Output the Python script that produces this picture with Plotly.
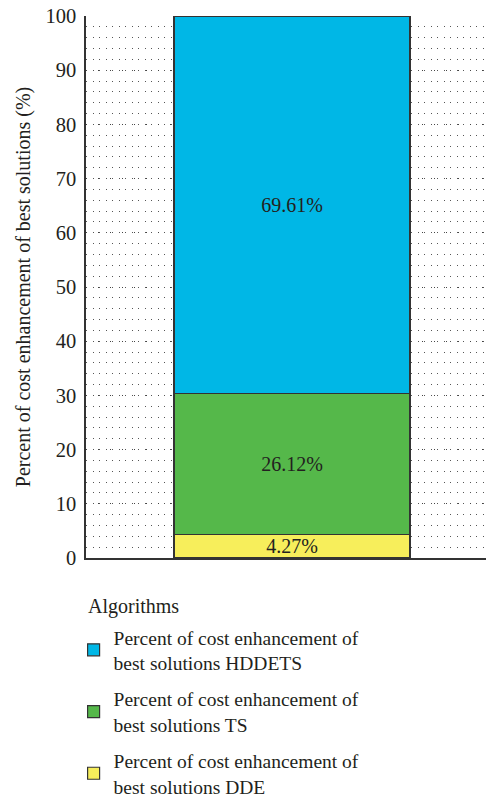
import plotly.graph_objects as go

categories = ["Best solutions"]
series_names = [
    "Percent of cost enhancement of<br>best solutions DDE",
    "Percent of cost enhancement of<br>best solutions TS",
    "Percent of cost enhancement of<br>best solutions HDDETS",
]
series_values = [[4.27], [26.12], [69.61]]
series_colors = ["#f7ee5b", "#55b84a", "#00b7e6"]
legend_ranks = [3, 2, 1]
y_ticks = [0, 10, 20, 30, 40, 50, 60, 70, 80, 90, 100]
legend_title = "Algorithms"

FONT = "Liberation Serif"
INK = "#231f20"

fig = go.Figure()
for i, (name, vals, col, rk) in enumerate(zip(series_names, series_values, series_colors, legend_ranks)):
    fig.add_trace(go.Bar(
        x=[0], y=vals, name=name, legendgroup=str(i), legendrank=rk,
        marker=dict(color=col, line=dict(color="#333333", width=1.2)),
        width=1,
        text=[f"{v:.2f}%" for v in vals], textposition="inside",
        insidetextanchor="middle", textangle=0, constraintext="none",
        textfont=dict(family=FONT, size=20, color=INK),
        hoverinfo="skip",
    ))

fig.update_layout(
    barmode="stack",
    width=486, height=797,
    margin=dict(l=86, r=0, t=16, b=239, autoexpand=False),
    paper_bgcolor="white", plot_bgcolor="white",
    font=dict(family=FONT, size=20, color=INK),
    showlegend=True,
    legend=dict(
        orientation="v", x=-0.031, xanchor="left", y=-0.1107, yanchor="top",
        traceorder="grouped", tracegroupgap=8,
        font=dict(family=FONT, size=19.5, color=INK),
        itemwidth=30,
    ),
    uniformtext=dict(mode=False),
    annotations=[dict(
        text=legend_title, xref="paper", yref="paper", x=0, y=-0.0886,
        xanchor="left", yanchor="middle", showarrow=False,
        font=dict(family=FONT, size=20, color=INK),
    )],
)
fig.update_xaxes(
    range=[-0.873, 0.822], showticklabels=False, showgrid=False, zeroline=False,
    showline=True, linecolor="#333333", linewidth=1.5, ticks="",
)
fig.update_yaxes(
    range=[0, 100], tickvals=y_ticks, ticks="", showline=True,
    linecolor="#333333", linewidth=1.5, zeroline=False,
    showgrid=True, gridcolor="#444444", gridwidth=1, griddash="1px,11px",
    minor=dict(dtick=2, showgrid=True, gridcolor="#555555", gridwidth=1, griddash="1px,5.5px"),
    tickfont=dict(family=FONT, size=20.5), ticklabelstandoff=4,
    ticklabeloverflow="allow",
    title=dict(text="Percent of cost enhancement of best solutions (%)",
               font=dict(family=FONT, size=20), standoff=9),
    layer="below traces",
)

fig.write_html("out.html", config={"displayModeBar": False},
               post_script="document.body.style.margin='0';")
